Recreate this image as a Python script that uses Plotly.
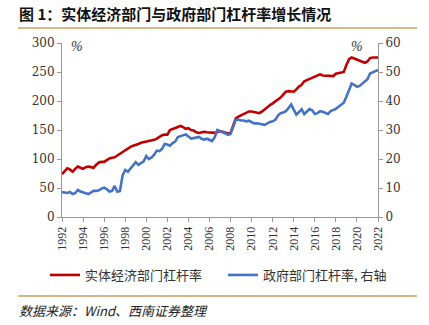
import plotly.graph_objects as go

start_year = 1992
quarters = list(range(121))
years = [start_year + q / 4 for q in quarters]

real_economy = [
    74, 80, 84, 82, 78, 83, 87, 85, 83, 86, 87, 86, 85, 90, 94, 95,
    95, 98, 101, 102, 103, 106, 109, 113, 116, 119, 121, 123, 124, 126, 128, 129,
    130, 130, 132, 133, 135, 138, 141, 142, 142, 150, 152, 154, 156, 157, 155, 152,
    153, 150, 149, 146, 145, 146, 147, 146, 146, 145, 145, 147, 148, 147, 146, 144,
    145, 158, 170, 173, 175, 177, 180, 182, 182, 181, 181, 179, 182, 186, 190, 193,
    196, 199, 202, 206, 211, 216, 217, 216, 216, 220, 225, 228, 234, 236, 238, 240,
    242, 244, 246, 244, 244, 244, 243, 243, 247, 248, 249, 250, 262, 272, 275, 273,
    271, 270, 268, 266, 268, 274, 275, 275, 275,
]

government = [
    8.6, 8.4, 8.3, 8.6, 7.9, 8.2, 9.3, 8.8, 8.4, 8.2, 7.9, 8.5, 9.0, 9.0, 9.2, 9.8,
    10.1, 9.6, 8.8, 9.0, 10.7, 8.7, 9.0, 14.3, 16.2, 15.6, 16.8, 18.0, 18.9, 18.0, 18.5, 19.2,
    21.0, 20.0, 20.5, 21.5, 22.9, 22.7, 23.5, 25.2, 25.0, 24.6, 25.5, 26.0, 27.6, 27.9, 28.4, 28.5,
    27.8, 27.0, 27.2, 27.4, 27.6, 27.0, 26.7, 27.0, 26.7, 26.2, 27.5, 30.0, 29.6, 29.3, 28.8, 28.3,
    28.6, 31.0, 33.5, 33.6, 33.3, 33.3, 33.0, 33.2, 32.6, 32.3, 32.3, 32.2, 32.0, 31.8, 32.3, 32.8,
    33.0, 33.5, 35.0, 35.8, 36.0, 36.5, 37.5, 38.8, 37.0, 35.3, 36.2, 37.2, 35.5, 36.5, 37.2, 36.8,
    35.5, 35.8, 36.5, 36.3, 36.0, 35.5, 36.5, 36.9, 37.3, 38.0, 38.6, 39.4, 41.5, 44.0, 46.0, 45.6,
    44.9, 45.2, 46.0, 46.8, 47.5, 49.5, 50.0, 50.3, 50.7,
]

x_ticks = list(range(1992, 2023, 2))
left_ticks = [0, 50, 100, 150, 200, 250, 300]
right_ticks = [0, 10, 20, 30, 40, 50, 60]

names = ["实体经济部门杠杆率", "政府部门杠杆率, 右轴"]
title_text = "图 1：实体经济部门与政府部门杠杆率增长情况"
source_text = "数据来源：Wind、西南证券整理"

CJK = "Noto Sans CJK SC"
SERIF = "Liberation Serif"
AXIS = "#999999"
TXT = "#333333"

fig = go.Figure()
fig.add_trace(go.Scatter(x=years, y=real_economy, name=names[0], mode="lines",
                         line=dict(color="#C00000", width=2.6), yaxis="y"))
fig.add_trace(go.Scatter(x=years, y=government, name=names[1], mode="lines",
                         line=dict(color="#4472C4", width=2.6), yaxis="y2"))

L, R, T, B = 62, 51, 43, 108
W, H = 429, 325
pw, ph = W - L - R, H - T - B


def px(xp):
    return (xp - L) / pw


def py(yp):
    return (H - B - yp) / ph


fig.update_layout(
    width=W, height=H,
    margin=dict(l=L, r=R, t=T, b=B, pad=0),
    paper_bgcolor="white", plot_bgcolor="white",
    showlegend=True,
    legend=dict(orientation="h", x=px(45), y=py(275), xanchor="left", yanchor="middle",
                font=dict(family=CJK, size=13, color=TXT),
                entrywidth=133, entrywidthmode="pixels",
                bgcolor="rgba(0,0,0,0)"),
    xaxis=dict(range=[1992, 2022], tickvals=x_ticks, ticktext=[str(v) for v in x_ticks],
               tickangle=-90, showgrid=False, zeroline=False,
               showline=True, linecolor=AXIS, linewidth=1,
               ticks="outside", ticklen=4, tickcolor=AXIS,
               tickfont=dict(family=SERIF, size=12, color=TXT)),
    yaxis=dict(range=[0, 300], tickvals=left_ticks, showgrid=False, zeroline=False,
               showline=True, linecolor=AXIS, linewidth=1,
               ticks="outside", ticklen=4, tickcolor=AXIS,
               tickfont=dict(family="DejaVu Serif", size=12, color=TXT)),
    yaxis2=dict(range=[0, 60], tickvals=right_ticks, overlaying="y", side="right",
                showgrid=False, zeroline=False,
                showline=True, linecolor=AXIS, linewidth=1,
                ticks="outside", ticklen=4, tickcolor=AXIS,
                tickfont=dict(family="DejaVu Serif", size=12, color=TXT)),
    annotations=[
        dict(text="<b>" + title_text + "</b>", xref="paper", yref="paper",
             x=px(17), y=py(14), xanchor="left", yanchor="middle", showarrow=False,
             font=dict(family=CJK, size=15, color="#111111")),
        dict(text="<i>" + source_text + "</i>", xref="paper", yref="paper",
             x=px(17), y=py(310), xanchor="left", yanchor="middle", showarrow=False,
             font=dict(family=CJK, size=13, color="#222222")),
        dict(text="<i>%</i>", xref="paper", yref="paper", x=px(77), y=py(47),
             xanchor="center", yanchor="middle", showarrow=False,
             font=dict(family=SERIF, size=14, color=TXT)),
        dict(text="<i>%</i>", xref="paper", yref="paper", x=px(357), y=py(47),
             xanchor="center", yanchor="middle", showarrow=False,
             font=dict(family=SERIF, size=14, color=TXT)),
    ],
    shapes=[
        dict(type="line", xref="paper", yref="paper", x0=px(18), x1=px(417),
             y0=py(28), y1=py(28), line=dict(color="#C9A063", width=1.5)),
        dict(type="line", xref="paper", yref="paper", x0=px(18), x1=px(417),
             y0=py(296), y1=py(296), line=dict(color="#C9A063", width=1.5)),
    ],
)

fig.write_html("out.html")
